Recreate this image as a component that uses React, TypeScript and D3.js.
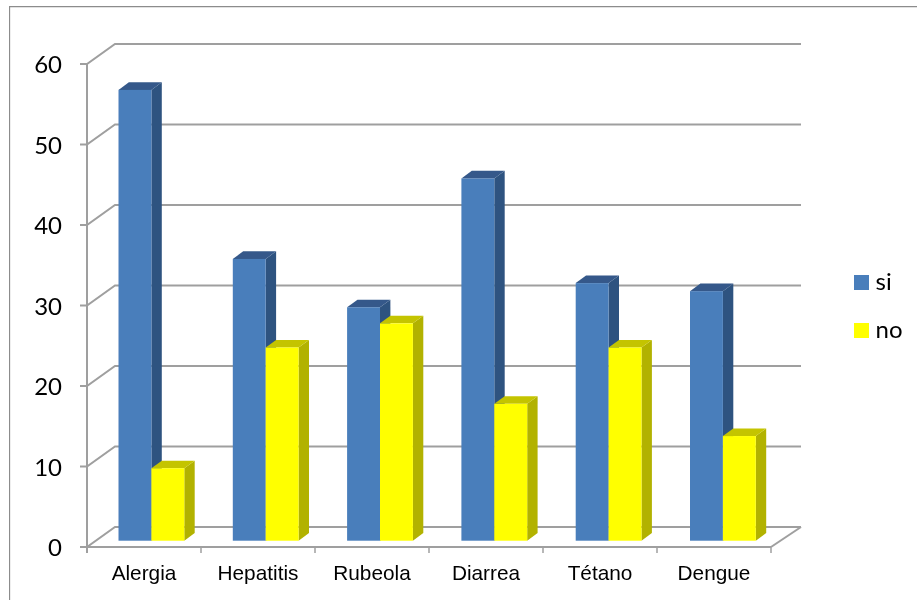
import React from "react";
import * as d3 from "d3";

const categories = ["Alergia", "Hepatitis", "Rubeola", "Diarrea", "Tétano", "Dengue"];
const siValues = [56, 35, 29, 45, 32, 31];
const noValues = [9, 24, 27, 17, 24, 13];
const yTicks = [0, 10, 20, 30, 40, 50, 60];

const W = 917, H = 600;
const x0 = 87, x1 = 771, y0 = 547, y60 = 64;
const depthX = 28, depthY = 20;
const barOffY = 6.3;
const barDX = 10.4, barDY = 7.6;
const gridColor = "#9f9f9f";

const COLORS = {
  si: { front: "#4a7ebb", side: "#2f5380", top: "#35598a" },
  no: { front: "#ffff00", side: "#b2b200", top: "#c4c400" },
};

function Bar({ x, w, base, top, c }: { x: number; w: number; base: number; top: number; c: { front: string; side: string; top: string } }) {
  return (
    <g>
      <polygon fill={c.side} points={`${x + w},${top} ${x + w + barDX},${top - barDY} ${x + w + barDX},${base - barDY} ${x + w},${base}`} />
      <polygon fill={c.top} points={`${x},${top} ${x + barDX},${top - barDY} ${x + w + barDX},${top - barDY} ${x + w},${top}`} />
      <rect x={x} y={top} width={w} height={base - top} fill={c.front} />
    </g>
  );
}

export default function App() {
  const y = d3.scaleLinear().domain([0, 60]).range([y0, y60]);
  const band = d3.scaleBand<string>().domain(categories).range([x0, x1]);
  const barBand = d3.scaleBand<string>().domain(categories).range([118.5, 804.3]);
  const bw = band.bandwidth();
  const barW = 32.9;
  const base = y0 - barOffY;
  const yBar = (v: number) => y(v) - barOffY;

  return (
    <svg width={W} height={H} style={{ position: "absolute", left: 0, top: 0, background: "#fff" }}>
      <defs>
        <filter id="soft" x="0" y="0" width="100%" height="100%">
          <feGaussianBlur stdDeviation="0.45" />
        </filter>
      </defs>
      <g filter="url(#soft)">
        <path d={`M9.5,${H} V6.5 H${W}`} fill="none" stroke="#8c8c8c" strokeWidth={1.3} />

        {/* walls and gridlines */}
        {yTicks.map((t) => (
          <polyline key={t} fill="none" stroke={gridColor} strokeWidth={2}
            points={`${x0 - 7},${y(t)} ${x0},${y(t)} ${x0 + depthX},${y(t) - depthY} ${x1 + depthX + 2},${y(t) - depthY}`} />
        ))}
        <line x1={x0} x2={x0} y1={y60} y2={y0 + 6} stroke={gridColor} strokeWidth={2} />
        <line x1={x0} x2={x1} y1={y0} y2={y0} stroke={gridColor} strokeWidth={2} />
        <line x1={x1} x2={x1 + depthX + 2} y1={y0} y2={y0 - depthY} stroke={gridColor} strokeWidth={2} />
        {d3.range(categories.length + 1).map((i) => (
          <line key={i} x1={x0 + i * bw} x2={x0 + i * bw} y1={y0} y2={y0 + 6} stroke={gridColor} strokeWidth={1.5} />
        ))}

        {/* bars */}
        {categories.map((cat, i) => {
          const gx = barBand(cat) as number;
          return (
            <g key={cat}>
              <Bar x={gx} w={barW} base={base} top={yBar(siValues[i])} c={COLORS.si} />
              <Bar x={gx + barW} w={barW} base={base} top={yBar(noValues[i])} c={COLORS.no} />
            </g>
          );
        })}

        {/* axis labels */}
        {yTicks.map((t) => (
          <text key={t} x={62} y={y(t) + 9} textAnchor="end" fontFamily="Lato, 'Open Sans', sans-serif" fontSize={24} fill="#000">{t}</text>
        ))}
        {categories.map((cat) => (
          <text key={cat} x={(band(cat) as number) + bw / 2} y={580} textAnchor="middle" fontFamily="'Liberation Sans', Arial, sans-serif" fontSize={20.8} fill="#000">{cat}</text>
        ))}

        {/* legend */}
        <rect x={854} y={275} width={15} height={15} fill={COLORS.si.front} />
        <rect x={854} y={323} width={15} height={15} fill={COLORS.no.front} />
        <text x={875.5} y={290} fontFamily="Lato, 'Open Sans', sans-serif" fontSize={24} fill="#000">si</text>
        <text x={875.5} y={338} fontFamily="Lato, 'Open Sans', sans-serif" fontSize={24} fill="#000">no</text>
      </g>
    </svg>
  );
}
